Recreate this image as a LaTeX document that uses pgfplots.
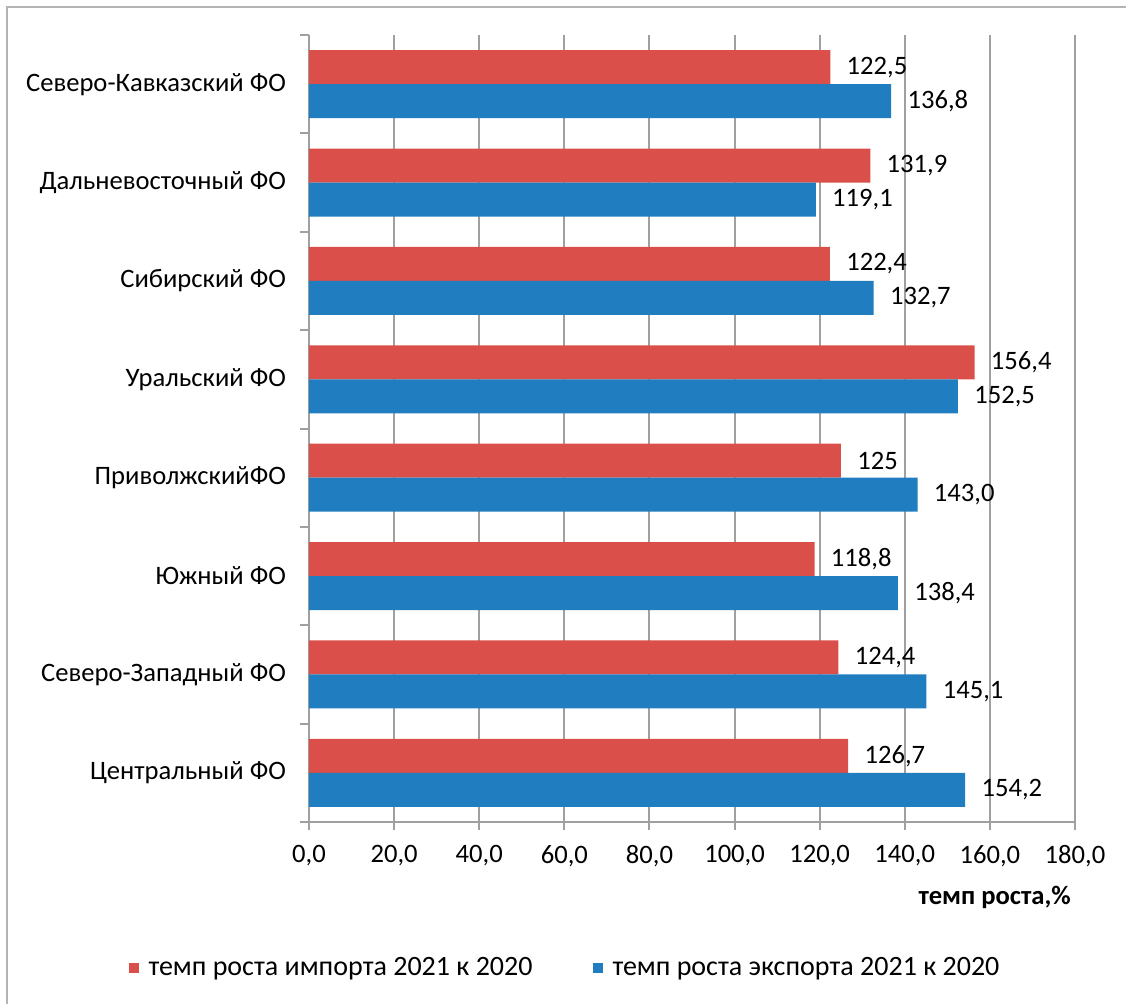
\documentclass[border=0pt]{standalone}
\usepackage{fontspec}
\setmainfont{Carlito}
\usepackage{pgfplots}
\pgfplotsset{compat=1.18}
\usepackage{pgfplotstable}

\definecolor{imp}{HTML}{DA4F49}
\definecolor{exp}{HTML}{1F7DC0}
\definecolor{grd}{HTML}{A0A0A0}

% y: 0 = Центральный ... 7 = Северо-Кавказский
\pgfplotstableread{
y imp implab exp explab
0 126.7 {126,7} 154.2 {154,2}
1 124.4 {124,4} 145.1 {145,1}
2 118.8 {118,8} 138.4 {138,4}
3 125.0 {125}   143.0 {143,0}
4 156.4 {156,4} 152.5 {152,5}
5 122.4 {122,4} 132.7 {132,7}
6 131.9 {131,9} 119.1 {119,1}
7 122.5 {122,5} 136.8 {136,8}
}\data

\begin{document}
\begin{tikzpicture}[x=1pt,y=1pt,font=\fontsize{13.3}{16}\selectfont]
\useasboundingbox (0,0) rectangle (563,501.5);
\draw[grd!80, line width=1pt] (3.5,-5) rectangle (570,498);
\begin{axis}[
  at={(154.5pt,90.5pt)}, anchor=south west,
  scale only axis, width=383pt, height=393.5pt,
  xbar, bar width=17pt,
  xmin=0, xmax=180, ymin=-0.5, ymax=7.5,
  xtick={0,20,...,180},
  xticklabel style={yshift=-4pt, /pgf/number format/.cd, fixed, fixed zerofill, precision=1, use comma, 1000 sep={}, assume math mode=true},
  xmajorgrids, grid style={grd, line width=1pt},
  axis lines*=left, axis line style={grd, line width=1pt},
  tick align=outside, major tick length=4pt,
  major x tick style={grd, line width=1pt},
  ytick={0,...,7},
  yticklabels={Центральный ФО, Северо-Западный ФО, Южный ФО, ПриволжскийФО, Уральский ФО, Сибирский ФО, Дальневосточный ФО, Северо-Кавказский ФО},
  major y tick style={draw=none},
  minor ytick={-0.5,0.5,...,7.5}, minor tick length=4.5pt,
  minor y tick style={grd, line width=1pt},
  yticklabel style={xshift=-4pt},
  xlabel={\textbf{темп роста,\%}},
  xlabel style={at={(axis description cs:0.995,-0.0953)}, anchor=east, inner sep=0pt},
  point meta=explicit symbolic,
  nodes near coords,
  nodes near coords style={anchor=west, inner sep=0pt, xshift=8pt, text=black},
  legend columns=2,
  legend style={at={(0.3355,-0.1855)}, anchor=center, draw=none, fill=none,
    font=\fontsize{14}{17}\selectfont,
    /tikz/every even column/.append style={column sep=28pt}},
]
\addplot[fill=imp, draw=none, bar shift=8.5pt,
  legend image code/.code={\fill[imp] (0pt,-2.5pt) rectangle (5pt,2.5pt); \path (8pt,0pt);}]
  table[x=imp, y=y, meta=implab] {\data};
\addlegendentry{темп роста импорта 2021 к 2020}
\addplot[fill=exp, draw=none, bar shift=-8.5pt,
  legend image code/.code={\fill[exp] (0pt,-2.5pt) rectangle (5pt,2.5pt); \path (8pt,0pt);}]
  table[x=exp, y=y, meta=explab] {\data};
\addlegendentry{темп роста экспорта 2021 к 2020}
\end{axis}
\end{tikzpicture}
\end{document}
